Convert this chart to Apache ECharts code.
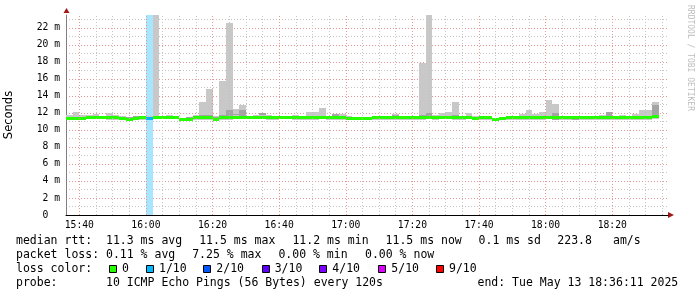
<!DOCTYPE html>
<html><head><meta charset="utf-8">
<script src="https://cdn.jsdelivr.net/npm/echarts@6/dist/echarts.min.js"></script>
<style>html,body{margin:0;padding:0;background:#fff}#c{width:697px;height:297px}</style>
</head><body><div id="c"></div>
<script>
// ---- data (values in milliseconds, 2-minute bins) ----
const binStart = ['15:36','15:38','15:40','15:42','15:44','15:46','15:48','15:50','15:52','15:54','15:56','15:58',
'16:00','16:02','16:04','16:06','16:08','16:10','16:12','16:14','16:16','16:18','16:20','16:22','16:24','16:26','16:28','16:30','16:32','16:34','16:36','16:38','16:40','16:42','16:44','16:46','16:48','16:50','16:52','16:54','16:56','16:58',
'17:00','17:02','17:04','17:06','17:08','17:10','17:12','17:14','17:16','17:18','17:20','17:22','17:24','17:26','17:28','17:30','17:32','17:34','17:36','17:38','17:40','17:42','17:44','17:46','17:48','17:50','17:52','17:54','17:56','17:58',
'18:00','18:02','18:04','18:06','18:08','18:10','18:12','18:14','18:16','18:18','18:20','18:22','18:24','18:26','18:28','18:30','18:32'];
const medianRtt = [11.30,11.38,11.38,11.40,11.47,11.45,11.40,11.40,11.33,11.25,11.38,11.40,
11.33,11.45,11.42,11.42,11.42,11.25,11.28,11.40,11.40,11.40,11.28,11.42,11.42,11.45,11.45,11.45,11.42,11.42,11.40,11.40,11.42,11.42,11.40,11.40,11.40,11.40,11.42,11.40,11.40,11.40,
11.38,11.36,11.36,11.36,11.40,11.40,11.40,11.40,11.40,11.40,11.40,11.40,11.45,11.40,11.42,11.42,11.40,11.40,11.42,11.38,11.40,11.40,11.28,11.36,11.40,11.40,11.40,11.40,11.40,11.40,
11.42,11.40,11.40,11.40,11.40,11.40,11.40,11.40,11.40,11.40,11.40,11.40,11.40,11.40,11.40,11.40,11.52];
const smokeLo = [11.18,11.22,11.22,11.25,11.30,11.28,11.20,11.22,11.15,11.08,11.20,11.22,
11.20,11.30,11.25,11.25,11.25,11.05,11.10,11.22,11.22,11.22,11.08,11.22,11.22,11.25,11.25,11.30,11.25,11.25,11.22,11.22,11.25,11.25,11.22,11.22,11.22,11.22,11.25,11.22,11.22,11.22,
11.15,11.18,11.18,11.18,11.22,11.22,11.22,11.22,11.22,11.22,11.22,11.22,11.28,11.22,11.25,11.25,11.22,11.22,11.25,11.20,11.22,11.22,11.08,11.18,11.22,11.22,11.22,11.22,11.22,11.22,
11.25,11.20,11.22,11.22,11.15,11.22,11.22,11.22,11.22,11.22,11.22,11.22,11.22,11.22,11.22,11.22,11.30];
const smokeHi = [11.70,12.05,11.76,11.76,11.88,11.69,12.04,11.76,11.65,11.55,11.69,11.55,
11.62,23.50,11.61,11.76,11.69,11.40,11.53,11.76,13.33,14.80,11.69,15.80,22.60,12.47,12.94,11.53,11.76,12.04,11.76,11.61,11.61,11.61,11.76,11.61,12.08,12.08,12.63,11.61,11.88,11.88,
11.61,11.53,11.45,11.45,11.65,11.61,11.65,11.88,11.69,11.53,11.53,17.90,23.50,11.76,12.00,12.16,13.33,11.69,12.00,11.69,11.69,11.69,11.45,11.40,11.61,11.61,11.92,12.39,11.92,12.16,
13.47,13.00,11.69,11.61,11.53,11.61,11.61,11.69,11.76,12.16,11.61,11.76,11.69,11.92,12.39,12.31,13.33];
const darkLo = [null,null,null,null,null,null,null,null,null,11.45,11.50,null,
null,11.45,null,null,null,null,11.40,null,11.45,11.50,11.40,11.50,11.60,11.76,11.61,null,null,11.70,null,null,null,null,null,11.53,null,null,null,11.50,11.60,null,
11.25,null,null,null,null,null,null,11.60,11.45,null,null,11.50,11.50,null,null,null,11.60,null,null,11.37,null,null,11.20,null,null,null,null,null,null,null,
11.45,11.22,null,null,11.22,null,null,null,11.53,11.53,null,null,null,null,null,null,11.69];
const darkHi = [null,null,null,null,null,null,null,null,null,11.55,11.69,null,
null,11.65,null,null,null,null,11.53,null,11.76,11.76,11.50,11.80,12.39,11.92,12.39,null,null,12.04,null,null,null,null,null,11.61,null,null,null,11.56,11.88,null,
11.37,null,null,null,null,null,null,11.76,11.61,null,null,11.70,12.00,null,null,null,11.70,null,null,11.53,null,null,11.30,null,null,null,null,null,null,null,
11.69,12.04,null,null,11.37,null,null,null,11.69,12.16,null,null,null,null,null,null,12.94];
const lossCount = [0,0,0,0,0,0,0,0,0,0,0,0,
1,0,0,0,0,0,0,0,0,0,0,0,0,0,0,0,0,0,0,0,0,0,0,0,0,0,0,0,0,0,
0,0,0,0,0,0,0,0,0,0,0,0,0,0,0,0,0,0,0,0,0,0,0,0,0,0,0,0,0,0,
0,0,0,0,0,0,0,0,0,0,0,0,0,0,0,0,0];
const xMajorTicks = ['15:40','16:00','16:20','16:40','17:00','17:20','17:40','18:00','18:20'];
const axisStart = '15:36', axisEnd = '18:36:45';
const yMaxMs = 23.5;
const lossLevels = ['0','1/10','2/10','3/10','4/10','5/10','9/10'];
const lossLevelCounts = [0,1,2,3,4,5,9];

// ---- styles ----
const lossColors = {0:'#26ff00',1:'#00b8ff',2:'#0059ff',3:'#5e00ff',4:'#7e00ff',5:'#dd00ff',9:'#ff0000'};
const lossBg = {1:'#a8e6ff',2:'#a0c0ff',3:'#c0a0ff',4:'#cca0ff',5:'#f0a0ff',9:'#ffa0a0'};
const SMOKE_LIGHT = '#c8c8c8', SMOKE_DARK = '#a4a4a4';
const MONO = '"DejaVu Sans Mono", monospace';
const GRID = {left:66, right:29, top:15, bottom:82, containLabel:false, outerBoundsMode:'none'};

function toMin(t){const p=t.split(':').map(Number);return p[0]*60+p[1]+(p[2]||0)/60;}
function pad(n){return (n<10?'0':'')+n;}
function fmtMin(m){m=Math.round(m);return pad(Math.floor(m/60))+':'+pad(m%60);}

const xMin = toMin(axisStart), xMax = toMin(axisEnd);

// one row per bin: [start, end, lo, hi, darkLo, darkHi, median, loss]
const rowsData = binStart.map((t,i) => {
  const s = toMin(t);
  const dl = darkLo[i] == null ? smokeHi[i] : darkLo[i];
  const dh = darkHi[i] == null ? smokeHi[i] : darkHi[i];
  return [s, s + 2, smokeLo[i], smokeHi[i], dl, dh, medianRtt[i], lossCount[i]];
});

function renderBin(params, api){
  const x0 = api.value(0), x1 = api.value(1);
  const loss = api.value(7);
  const px = v => Math.round(api.coord([v, 0])[0]);
  const py = v => Math.round(api.coord([x0, v])[1]);
  const L = px(x0), R = px(x1);
  const kids = [];
  const rect = (ya, yb, fill) => {
    const top = py(yb), bot = py(ya);
    if (bot - top <= 0) return;
    kids.push({type:'rect', shape:{x:L, y:top, width:R-L, height:bot-top}, style:{fill}});
  };
  if (loss > 0) rect(0, yMaxMs, lossBg[loss]);
  rect(api.value(2), api.value(4), SMOKE_LIGHT);
  rect(api.value(4), api.value(5), SMOKE_DARK);
  rect(api.value(5), api.value(3), SMOKE_LIGHT);
  const my = api.coord([x0, api.value(6)])[1];
  const mt = Math.round(my - 1.5);
  kids.push({type:'rect', shape:{x:L, y:mt, width:R-L, height:3}, style:{fill: lossColors[loss]}});
  return {type:'group', children:kids};
}

// vertical grid lines
const majorSet = new Set(xMajorTicks.map(toMin));
const vLines = [];
for (let m = Math.ceil(xMin/5)*5; m < xMax; m += 5) {
  vLines.push({xAxis: m, lineStyle: majorSet.has(m)
    ? {color:'rgba(230,140,140,0.9)', type:[1,2], width:1}
    : {color:'rgba(190,190,190,0.9)', type:[1,2], width:1}});
}

const series = [
  {type:'line', data:[], z:1, silent:true,
   markLine:{silent:true, symbol:['none','none'], label:{show:false}, animation:false, data: vLines}},
  {type:'custom', z:2, silent:true, clip:true, renderItem: renderBin,
   encode:{x:[0,1], y:[2,3]}, data: rowsData}
];

// ---- text block ----
const rows = [241.5, 255.5, 269.5, 283.5];
const graphic = [];
function txt(x, y, s, extra){
  graphic.push({type:'text', x, y, silent:true, style:Object.assign({text:s, font:'11.5px '+MONO, fill:'#000', verticalAlign:'middle'}, extra||{})});
}
txt(16, rows[0], 'median rtt:');
txt(106, rows[0], '11.3 ms avg');
txt(199.2, rows[0], '11.5 ms max');
txt(292.4, rows[0], '11.2 ms min');
txt(385.6, rows[0], '11.5 ms now');
txt(478.6, rows[0], '0.1 ms sd');
txt(557.3, rows[0], '223.8');
txt(613, rows[0], 'am/s');
txt(16, rows[1], 'packet loss:');
txt(106, rows[1], '0.11 % avg');
txt(192.2, rows[1], '7.25 % max');
txt(278.4, rows[1], '0.00 % min');
txt(365, rows[1], '0.00 % now');
txt(16, rows[2], 'loss color:');
const sqX = [109, 146, 203.3, 261.7, 319.3, 378.3, 436];
lossLevels.forEach((lab, i) => {
  graphic.push({type:'rect', silent:true, shape:{x:Math.round(sqX[i])+0.5, y:265.5, width:7, height:7},
    style:{fill: lossColors[lossLevelCounts[i]], stroke:'#000', lineWidth:1}});
  txt(sqX[i] + 13, rows[2], lab);
});
txt(16, rows[3], 'probe:');
txt(106, rows[3], '10 ICMP Echo Pings (56 Bytes) every 120s');
txt(477.5, rows[3], 'end: Tue May 13 18:36:11 2025');
// watermark
graphic.push({type:'text', x:690, y:5, rotation:-Math.PI/2, silent:true,
  style:{text:'RRDTOOL / TOBI OETIKER', font:'8px '+MONO, fill:'#bdbdbd', verticalAlign:'middle'}});
// axis arrows
graphic.push({type:'polygon', silent:true, shape:{points:[[668,212],[674,215],[668,218]]}, style:{fill:'#a01818'}});
graphic.push({type:'polygon', silent:true, shape:{points:[[63.5,13],[66.5,8],[69.5,13]]}, style:{fill:'#a01818'}});

const chart = echarts.init(document.getElementById('c'), null, {renderer:'canvas'});
chart.setOption({
  animation:false,
  backgroundColor:'#fff',
  grid: GRID,
  xAxis: {
    type:'value', min:xMin, max:xMax, minInterval:20, maxInterval:20,
    axisLine:{show:true, lineStyle:{color:'#000', width:1}},
    axisTick:{show:false},
    splitLine:{show:false},
    axisLabel:{show:true, showMinLabel:false, showMaxLabel:false, margin:5, color:'#000',
      fontFamily:'"DejaVu Sans Mono", monospace', fontSize:9.7, formatter: v => fmtMin(v)}
  },
  yAxis: {
    type:'value', min:0, max:yMaxMs, interval:1,
    name:'Seconds', nameLocation:'middle', nameGap:51, nameRotate:90,
    nameTextStyle:{fontFamily:'"DejaVu Sans", sans-serif', fontSize:11.5, color:'#000'},
    axisLine:{show:true, lineStyle:{color:'#808080', width:1}},
    axisTick:{show:false},
    splitLine:{show:true, showMaxLine:false,
      lineStyle:{color:['rgba(230,140,140,0.9)','rgba(190,190,190,0.9)'], type:[1,2], width:1}},
    axisLabel:{margin:6, color:'#000', fontFamily:'"DejaVu Sans Mono", monospace', fontSize:9.7,
      showMaxLabel:false,
      formatter: v => {const r=Math.round(v); if (Math.abs(v-r)>1e-6 || r%2) return ''; return r===0 ? '0  ' : r+' m';}}
  },
  series,
  graphic
});
</script></body></html>
